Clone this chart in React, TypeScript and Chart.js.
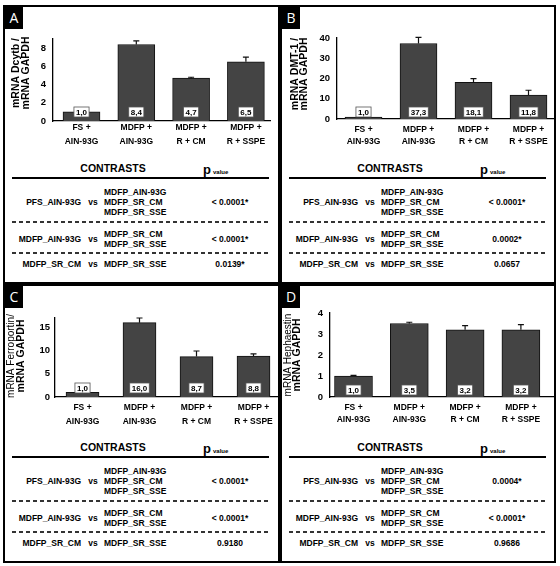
import React, { useEffect, useRef } from "react";
import { Chart, registerables } from "chart.js";

Chart.register(...registerables);

// Diet groups shown under each bar
const groupLabels: string[][] = [
  ["FS +", "AIN-93G"],
  ["MDFP +", "AIN-93G"],
  ["MDFP +", "R + CM"],
  ["MDFP +", "R + SSPE"],
];

// Relative expression (target mRNA / GAPDH mRNA) and upper error per group
const dcytbMeans = [1.0, 8.4, 4.7, 6.5];
const dcytbErrors = [0.05, 0.4, 0.1, 0.5];
const dmt1Means = [1.0, 37.3, 18.1, 11.8];
const dmt1Errors = [0.2, 3.0, 1.8, 2.4];
const ferroportinMeans = [1.0, 16.0, 8.7, 8.8];
const ferroportinErrors = [0.1, 1.0, 1.2, 0.5];
const hephaestinMeans = [1.0, 3.5, 3.2, 3.2];
const hephaestinErrors = [0.03, 0.06, 0.2, 0.25];

// y-axis tick values
const dcytbTicks = [0, 2, 4, 6, 8];
const dmt1Ticks = [0, 10, 20, 30, 40];
const ferroportinTicks = [0, 5, 10, 15];
const hephaestinTicks = [0, 1, 2, 3, 4];

// Contrasts tested and their p values
const contrastLeft = ["PFS_AIN-93G", "MDFP_AIN-93G", "MDFP_SR_CM"];
const contrastRight = [
  ["MDFP_AIN-93G", "MDFP_SR_CM", "MDFP_SR_SSE"],
  ["MDFP_SR_CM", "MDFP_SR_SSE"],
  ["MDFP_SR_SSE"],
];
const dcytbP = ["< 0.0001*", "< 0.0001*", "0.0139*"];
const dmt1P = ["< 0.0001*", "0.0002*", "0.0657"];
const ferroportinP = ["< 0.0001*", "< 0.0001*", "0.9180"];
const hephaestinP = ["0.0004*", "< 0.0001*", "0.9686"];

const FONT = '"Liberation Sans", Arial, Helvetica, sans-serif';
const CANVAS_H = 150;

type Geom = {
  axisX: number;
  chartRight: number;
  top: number;
  baseline: number;
  firstCenter: number;
  spacing: number;
  barWidth: number;
  yMax: number;
  tickPad: number;
  xFirst: number;
  xLine: number;
  title1X: number;
  title2X: number;
  titleY: number;
  boxOffset: number;
};

type PanelProps = {
  letter: string;
  left: number;
  top: number;
  width: number;
  height: number;
  means: number[];
  errors: number[];
  ticks: number[];
  titleLines: string[];
  lightFirstLine: boolean;
  pValues: string[];
  g: Geom;
};

function fmt(v: number) {
  return v.toFixed(1).replace(".", ",");
}

function BarChart(props: PanelProps & { cw: number }) {
  const ref = useRef<HTMLCanvasElement | null>(null);
  useEffect(() => {
    const { g, means, errors, ticks, titleLines, lightFirstLine, cw } = props;
    const xMin = -(g.firstCenter - g.axisX) / g.spacing;
    const xMax = (g.chartRight - g.firstCenter) / g.spacing;

    const errorBars = {
      id: "errorBars",
      afterDatasetsDraw(chart: any) {
        const meta = chart.getDatasetMeta(0);
        const y = chart.scales.y;
        const ctx = chart.ctx;
        ctx.save();
        ctx.strokeStyle = "#111";
        ctx.lineWidth = 1.2;
        meta.data.forEach((bar: any, i: number) => {
          const yv = y.getPixelForValue(means[i]);
          const ye = y.getPixelForValue(means[i] + errors[i]);
          ctx.beginPath();
          ctx.moveTo(bar.x, yv);
          ctx.lineTo(bar.x, ye);
          ctx.moveTo(bar.x - 3, ye);
          ctx.lineTo(bar.x + 3, ye);
          ctx.stroke();
        });
        ctx.restore();
      },
    };

    const valueBoxes = {
      id: "valueBoxes",
      afterDatasetsDraw(chart: any) {
        const meta = chart.getDatasetMeta(0);
        const base = chart.scales.y.getPixelForValue(0);
        const ctx = chart.ctx;
        ctx.save();
        ctx.font = `bold 8px ${FONT}`;
        ctx.textAlign = "center";
        ctx.textBaseline = "middle";
        meta.data.forEach((bar: any, i: number) => {
          const txt = fmt(means[i]);
          const w = ctx.measureText(txt).width + 4;
          const h = 10;
          const cy = base - g.boxOffset;
          ctx.fillStyle = "#fff";
          ctx.fillRect(bar.x - w / 2, cy - h / 2, w, h);
          ctx.strokeStyle = "#555";
          ctx.lineWidth = 0.8;
          ctx.strokeRect(bar.x - w / 2, cy - h / 2, w, h);
          ctx.fillStyle = "#000";
          ctx.fillText(txt, bar.x, cy + 0.5);
        });
        ctx.restore();
      },
    };

    const yTitle = {
      id: "yTitle",
      afterDraw(chart: any) {
        const ctx = chart.ctx;
        ctx.save();
        ctx.fillStyle = "#000";
        ctx.textAlign = "center";
        ctx.textBaseline = "middle";
        const xs = [g.title1X, g.title2X];
        titleLines.forEach((line, i) => {
          ctx.save();
          ctx.translate(xs[i], g.titleY);
          ctx.rotate(-Math.PI / 2);
          ctx.font =
            i === 0 && lightFirstLine ? `10px ${FONT}` : `bold 10.5px ${FONT}`;
          ctx.fillText(line, 0, 0);
          ctx.restore();
        });
        ctx.restore();
      },
    };

    const chart = new Chart(ref.current as HTMLCanvasElement, {
      type: "bar",
      data: {
        datasets: [
          {
            data: means.map((v, i) => ({ x: i, y: v })),
            backgroundColor: "#444444",
            borderColor: "#111111",
            borderWidth: 1,
            barThickness: g.barWidth,
          },
        ],
      },
      options: {
        animation: false,
        responsive: false,
        maintainAspectRatio: false,
        events: [],
        layout: {
          padding: { left: 0, top: g.top, right: cw - g.chartRight, bottom: 0 },
        },
        plugins: {
          legend: { display: false },
          tooltip: { enabled: false },
        },
        scales: {
          x: {
            type: "linear",
            offset: false,
            min: xMin,
            max: xMax,
            grid: { display: false, drawTicks: false, offset: false },
            border: { display: true, color: "#000", width: 1.3 },
            afterBuildTicks: (s: any) => {
              s.ticks = groupLabels.map((_, i) => ({ value: i }));
            },
            afterFit: (s: any) => {
              s.height = CANVAS_H - g.baseline;
            },
            ticks: {
              autoSkip: false,
              maxRotation: 0,
              minRotation: 0,
              color: "#000",
              padding: g.xFirst - g.xLine / 2,
              font: { family: FONT, size: 8.5, weight: "bold", lineHeight: g.xLine / 8.5 },
              callback: (v: any) => groupLabels[Math.round(Number(v))] as any,
            },
          },
          y: {
            min: 0,
            max: g.yMax,
            grid: { display: false, drawTicks: false },
            border: { display: true, color: "#000", width: 1.3 },
            afterBuildTicks: (s: any) => {
              s.ticks = ticks.map((t) => ({ value: t }));
            },
            afterFit: (s: any) => {
              s.width = g.axisX;
            },
            ticks: {
              color: "#000",
              padding: g.tickPad,
              font: { family: FONT, size: 9.5, weight: "bold" },
            },
          },
        },
      } as any,
      plugins: [errorBars, valueBoxes, yTitle],
    });
    return () => chart.destroy();
  }, []);
  return (
    <canvas
      ref={ref}
      width={props.cw}
      height={CANVAS_H}
      style={{ position: "absolute", left: 0, top: 0, width: props.cw, height: CANVAS_H }}
    />
  );
}

// table layout inside a panel
const TB = {
  headerY: 161,
  ruleY: 171,
  lineL: 7,
  lineR: 264,
  rowLines: [
    [185, 195, 205],
    [227, 237],
    [257],
  ],
  rowCenter: [195, 232, 257],
  dashY: [215, 246],
  leftEdge: 76,
  vsX: 88,
  rightX: 99,
  pX: 225,
  headerX: 108,
  pHeadX: 198,
};

const cellText: React.CSSProperties = {
  position: "absolute",
  whiteSpace: "nowrap",
  lineHeight: 1,
  fontFamily: FONT,
  fontWeight: "bold",
  fontSize: 8.5,
  color: "#000",
};

function ContrastTable({ pValues }: { pValues: string[] }) {
  return (
    <>
      <div
        style={{
          ...cellText,
          fontSize: 10.5,
          left: TB.headerX,
          top: TB.headerY,
          transform: "translate(-50%, -50%)",
        }}
      >
        CONTRASTS
      </div>
      <div
        style={{
          ...cellText,
          left: TB.pHeadX,
          top: TB.headerY + 1,
          transform: "translateY(-50%)",
        }}
      >
        <span style={{ fontSize: 13 }}>p</span>
        <span style={{ fontSize: 6, marginLeft: 2 }}>value</span>
      </div>
      <div
        style={{
          position: "absolute",
          left: TB.lineL,
          width: TB.lineR - TB.lineL,
          top: TB.ruleY - 1,
          height: 2,
          background: "#000",
        }}
      />
      {TB.dashY.map((y, i) => (
        <div
          key={"d" + i}
          style={{
            position: "absolute",
            left: TB.lineL,
            width: TB.lineR - TB.lineL,
            top: y - 0.75,
            height: 1.5,
            backgroundImage:
              "repeating-linear-gradient(to right, #333 0 4px, transparent 4px 7px)",
          }}
        />
      ))}
      {contrastLeft.map((name, r) => (
        <React.Fragment key={"r" + r}>
          <div
            style={{
              ...cellText,
              left: TB.leftEdge,
              top: TB.rowCenter[r],
              transform: "translate(-100%, -50%)",
            }}
          >
            {name}
          </div>
          <div
            style={{
              ...cellText,
              left: TB.vsX,
              top: TB.rowCenter[r],
              transform: "translate(-50%, -50%)",
            }}
          >
            vs
          </div>
          {contrastRight[r].map((t, k) => (
            <div
              key={"t" + k}
              style={{
                ...cellText,
                left: TB.rightX,
                top: TB.rowLines[r][k],
                transform: "translateY(-50%)",
              }}
            >
              {t}
            </div>
          ))}
          <div
            style={{
              ...cellText,
              left: TB.pX,
              top: TB.rowCenter[r],
              transform: "translate(-50%, -50%)",
            }}
          >
            {pValues[r]}
          </div>
        </React.Fragment>
      ))}
    </>
  );
}

function Panel(props: PanelProps) {
  const cw = props.width - 4;
  return (
    <div
      style={{
        position: "absolute",
        left: props.left,
        top: props.top,
        width: props.width,
        height: props.height,
        border: "2px solid #000",
        boxSizing: "border-box",
        background: "#fff",
        overflow: "hidden",
      }}
    >
      <BarChart {...props} cw={cw} />
      <div
        style={{
          position: "absolute",
          left: 0,
          top: 0,
          width: 18,
          height: 22,
          background: "#000",
          color: "#fff",
          fontFamily: '"Open Sans", "Liberation Sans", sans-serif',
          fontSize: 14,
          lineHeight: "22px",
          textAlign: "center",
        }}
      >
        {props.letter}
      </div>
      <ContrastTable pValues={props.pValues} />
    </div>
  );
}

export default function App() {
  return (
    <div
      style={{
        position: "fixed",
        left: 0,
        top: 0,
        width: 560,
        height: 566,
        background: "#fff",
      }}
    >
      <Panel
        letter="A"
        left={3}
        top={5}
        width={277}
        height={279}
        means={dcytbMeans}
        errors={dcytbErrors}
        ticks={dcytbTicks}
        titleLines={["mRNA Dcytb /", "mRNA GAPDH"]}
        lightFirstLine={false}
        pValues={dcytbP}
        g={{
          axisX: 48, chartRight: 265, top: 32, baseline: 114, firstCenter: 76.5,
          spacing: 54.8, barWidth: 37, yMax: 9, tickPad: 7, xFirst: 7, xLine: 14,
          title1X: 11, title2X: 21, titleY: 66, boxOffset: 9,
        }}
      />
      <Panel
        letter="B"
        left={280}
        top={5}
        width={276}
        height={279}
        means={dmt1Means}
        errors={dmt1Errors}
        ticks={dmt1Ticks}
        titleLines={["mRNA DMT-1 /", "mRNA GAPDH"]}
        lightFirstLine={false}
        pValues={dmt1P}
        g={{
          axisX: 55, chartRight: 272, top: 31, baseline: 112, firstCenter: 81.5,
          spacing: 55, barWidth: 37, yMax: 40, tickPad: 7, xFirst: 11, xLine: 12,
          title1X: 13, title2X: 22, titleY: 67, boxOffset: 7,
        }}
      />
      <Panel
        letter="C"
        left={3}
        top={284}
        width={277}
        height={279}
        means={ferroportinMeans}
        errors={ferroportinErrors}
        ticks={ferroportinTicks}
        titleLines={["mRNA Ferroportin/", "mRNA GAPDH"]}
        lightFirstLine={true}
        pValues={ferroportinP}
        g={{
          axisX: 50, chartRight: 273, top: 32, baseline: 111, firstCenter: 77.5,
          spacing: 57, barWidth: 33, yMax: 17, tickPad: 5, xFirst: 11, xLine: 13.5,
          title1X: 6, title2X: 16, titleY: 70, boxOffset: 9,
        }}
      />
      <Panel
        letter="D"
        left={280}
        top={284}
        width={276}
        height={279}
        means={hephaestinMeans}
        errors={hephaestinErrors}
        ticks={hephaestinTicks}
        titleLines={["mRNA Hephaestin", "mRNA GAPDH"]}
        lightFirstLine={true}
        pValues={hephaestinP}
        g={{
          axisX: 48, chartRight: 272, top: 27, baseline: 111, firstCenter: 71.5,
          spacing: 55.8, barWidth: 38, yMax: 4, tickPad: 7, xFirst: 10.5, xLine: 12,
          title1X: 6, title2X: 15, titleY: 69, boxOffset: 7,
        }}
      />
    </div>
  );
}
